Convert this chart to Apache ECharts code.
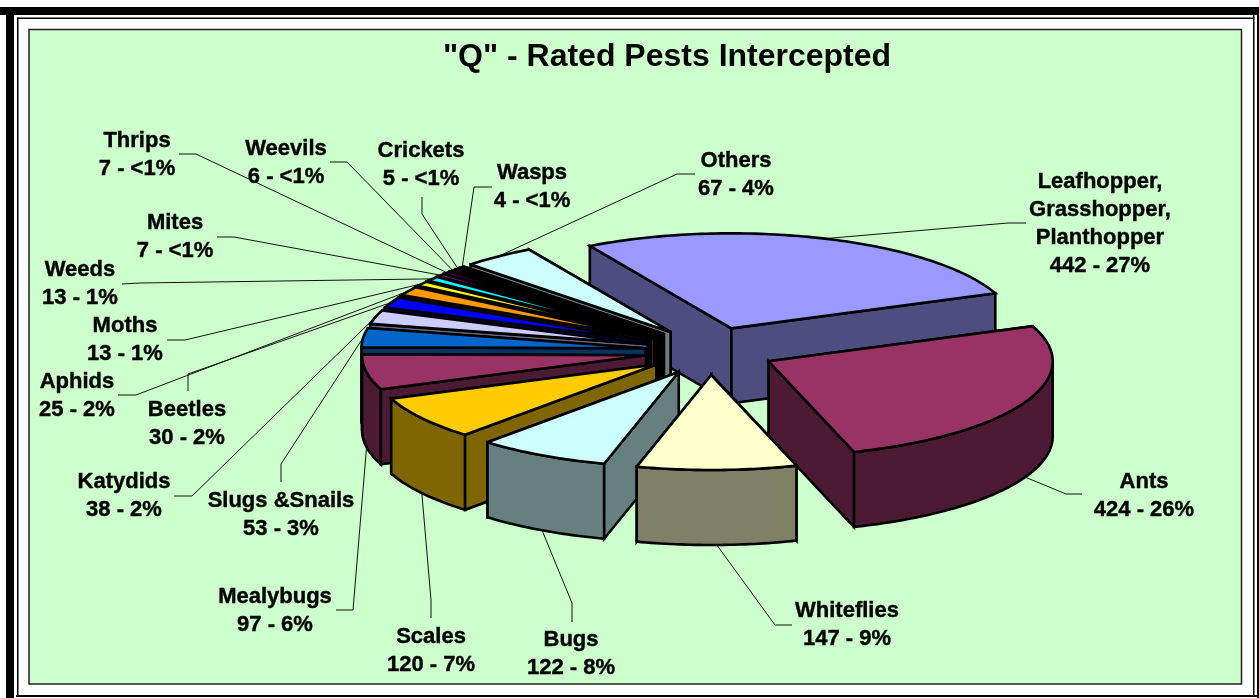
<!DOCTYPE html>
<html>
<head>
<meta charset="utf-8">
<style>html,body{margin:0;padding:0;background:#fff;}#chart{width:1259px;height:698px;}</style>
<script src="https://cdn.jsdelivr.net/npm/echarts@6/dist/echarts.min.js"></script>
</head>
<body>
<div id="chart"></div>
<script>
// ---- data, clockwise from the first slice ----
const categories = ['Leafhopper,\nGrasshopper,\nPlanthopper','Ants','Whiteflies','Bugs','Scales','Mealybugs','Slugs &Snails','Katydids','Beetles','Aphids','Moths','Weeds','Mites','Thrips','Weevils','Crickets','Wasps','Others'];
const counts = [442,424,147,122,120,97,53,38,30,25,13,13,7,7,6,5,4,67];
const percents = ['27%','26%','9%','8%','7%','6%','3%','2%','2%','2%','1%','1%','<1%','<1%','<1%','<1%','<1%','4%'];
const colors = ['#9999FF','#993366','#FFFFCC','#CCFFFF','#FFCC00','#993366','#0066CC','#CCCCFF','#0000FF','#FF9900','#FFFF00','#00FFFF','#FF00FF','#800080','#800000','#008080','#0000FF','#CCFFFF'];

// ---- layout, separate from the data ----
const pie = {cx:710, cy:351, rx:284, ry:95, ex:65, ey:24, depth:75, firstAngle:-29.9};
const labelCenters = [[1100,224],[1144,496],[847,625],[571,654],[431,651],[275,611],[281,515],[124,496],[187,424],[77,396],[125,340],[80,284],[175,237],[137,155],[286,163],[421,165],[532,187],[736,175]];
const leaderStarts = [[1026,223],[1082,494],[792,625],[572,622],[431,618],[336,610],[281,482],[174,496],[188,391],[118,395],[167,340],[122,284],[217,237],[179,154],[330,162],[422,197],[492,187],[695,174]];
const leaderElbows = [[1008,223],[1066,494],[775,625],[572,603],[431,600],[353,610],[281,464],[192,496],[188,374],[136,395],[185,340],[140,283],[234,237],[196,154],[347,162],[422,214],[474,187],[677,174]];

const total = counts.reduce((a,b)=>a+b,0);
const toAngle = v => echarts.number.linearMap(v,[0,total],[0,360]);
const starts = []; let run = 0;
counts.forEach(c => { starts.push(pie.firstAngle + toAngle(run)); run += c; });
const rad = d => d*Math.PI/180;
const shade = hex => { const n=parseInt(hex.slice(1),16); const h=v=>Math.round(v/2);
  return `rgb(${h(n>>16&255)},${h(n>>8&255)},${h(n&255)})`; };
const midOf = i => starts[i] + toAngle(counts[i])/2;

// paint order: far slices first
const order = counts.map((_,i)=>i).sort((a,b)=>Math.cos(rad(midOf(b)))-Math.cos(rad(midOf(a))));

const stroke = {stroke:'#000', lineWidth:2.6, lineJoin:'miter', miterLimit:3};
function poly(points, fill){
  return {type:'polygon', shape:{points}, style:Object.assign({fill},stroke)};
}
function renderSlice(params, api){
  const i = api.value(0), a0 = starts[i], a1 = a0 + toAngle(api.value(1)), mid = (a0+a1)/2;
  const ox = pie.cx + pie.ex*Math.sin(rad(mid)), oy = pie.cy - pie.ey*Math.cos(rad(mid));
  const rim = a => [ox + pie.rx*Math.sin(rad(a)), oy - pie.ry*Math.cos(rad(a))];
  const down = p => [p[0], p[1]+pie.depth];
  const side = shade(colors[i]);
  const arc = (from,to) => { const n=Math.max(2,Math.ceil((to-from))), out=[];
    for(let k=0;k<=n;k++) out.push(rim(from+(to-from)*k/n)); return out; };
  const apex = [ox,oy];
  const wall = a => { const p=rim(a); return poly([apex,p,down(p),down(apex)],side); };
  const startVisible = Math.sin(rad(a0))<0, endVisible = Math.sin(rad(a1))>0;
  const children = [];
  if(!startVisible) children.push(wall(a0));
  if(!endVisible) children.push(wall(a1));
  const norm = a => ((a%360)+360)%360;
  const base = norm(a0), span = a1-a0;
  const lo = Math.max(base,90), hi = Math.min(base+span,270);
  if(hi>lo){
    const top = arc(lo,hi);
    children.push(poly(top.concat(top.map(down).reverse()),side));
  }
  if(startVisible) children.push(wall(a0));
  if(endVisible) children.push(wall(a1));
  children.push(poly([apex].concat(arc(a0,a1)),colors[i]));
  return {type:'group', children};
}
function renderLabel(params, api){
  const i = api.value(0), mid = midOf(i), s = Math.sin(rad(mid)), c = Math.cos(rad(mid));
  const frontDrop = c<0 ? pie.depth : 0;
  const end = [pie.cx+(pie.rx+pie.ex)*s, pie.cy-(pie.ry+pie.ey)*c+frontDrop];
  const name = categories[i];
  return {type:'group', children:[
    {type:'polyline', shape:{points:[leaderStarts[i],leaderElbows[i],end]}, style:{stroke:'#111',lineWidth:1,fill:null}},
    {type:'text', x:labelCenters[i][0], y:labelCenters[i][1], z2:5, style:{
      text:`${name}\n${counts[i]} - ${percents[i]}`, fill:'#000', stroke:'#000', lineWidth:0.4, align:'center', verticalAlign:'middle',
      font:'bold 22px "Liberation Sans", Arial, sans-serif', lineHeight:28}}
  ]};
}
const frameRects = [
  [0,7,1259,8],[6,7,8,691],[17,17.5,1236,1.5],[17,17.5,1.5,678],[16,695,1243,2],[1253,15,1.5,681],[1257,7,2,691]
];
const chart = echarts.init(document.getElementById('chart'));
chart.setOption({
  backgroundColor:'#fff',
  animation:false,
  title:{text:'"Q" - Rated Pests Intercepted', left:662, top:36, textAlign:'center', z:10,
    textStyle:{fontFamily:'"Liberation Sans", Arial, sans-serif', fontWeight:'bold', fontSize:32, color:'#000'}},
  graphic:{elements:[
    ...frameRects.map(r=>({type:'rect', silent:true, z:0, shape:{x:r[0],y:r[1],width:r[2],height:r[3]}, style:{fill:'#000'}})),
    {type:'rect', silent:true, z:1, shape:{x:29,y:29.5,width:1212.5,height:654.5}, style:{fill:'#CCFFCC',stroke:'#222',lineWidth:1.5}}
  ]},
  series:[
    {type:'custom', coordinateSystem:'none', silent:true, z:4, renderItem:renderLabel,
      data:counts.map((v,i)=>[i,v])},
    {type:'custom', coordinateSystem:'none', silent:true, z:5, renderItem:renderSlice,
      data:order.map(i=>[i,counts[i]])}
  ]
});
</script>
</body>
</html>
